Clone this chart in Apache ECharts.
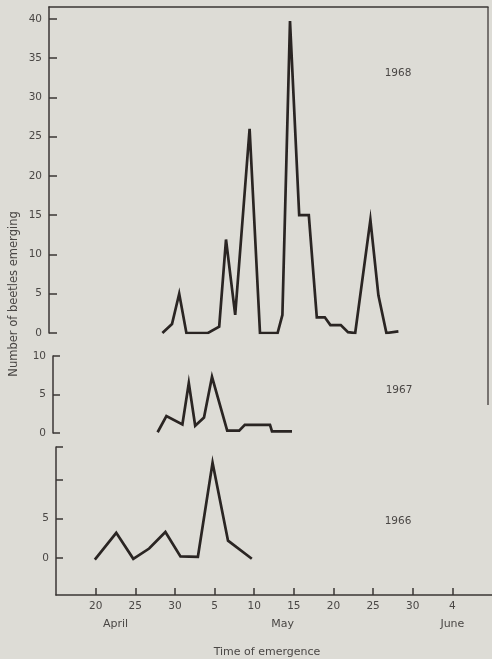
<!DOCTYPE html>
<html>
<head>
<meta charset="utf-8">
<script src="https://cdn.jsdelivr.net/npm/echarts@6/dist/echarts.min.js"></script>
<style>
  html, body { margin: 0; padding: 0; background: #dddcd6; }
  #chart { width: 492px; height: 659px; }
</style>
</head>
<body>
<div id="chart"></div>
<script>
// x values: day number counted from 1 April (May 1 = 31, June 1 = 62)
const x1968 = [28.3, 29.5, 30.4, 31.3, 34, 35.4, 36.25, 37.4, 39.2, 40.5, 42.7, 43.3, 44.25, 45.4, 46.6, 47.6, 48.6, 49.3, 50.6, 51.5, 52.4, 54.3, 55.3, 56.3, 57.8];
const y1968 = [0, 1.15, 5, 0, 0, 0.8, 11.9, 2.3, 26, 0, 0, 2.3, 39.7, 15, 15, 2, 2, 1, 1, 0.1, 0, 14.4, 4.8, 0, 0.2];

const x1967 = [27.7, 28.8, 30.8, 31.6, 32.4, 33.5, 34.5, 36.4, 37.9, 38.6, 41.75, 42, 44.5];
const y1967 = [0.1, 2.2, 1.1, 6.5, 0.95, 2.0, 7.3, 0.3, 0.3, 1.05, 1.05, 0.2, 0.2];

const x1966 = [19.9, 22.6, 24.75, 26.75, 28.8, 30.7, 32.9, 34.75, 36.7, 39.7];
const y1966 = [-0.2, 3.2, -0.1, 1.2, 3.3, 0.2, 0.15, 12.1, 2.2, -0.1];

const xTickValues = [20, 25, 30, 35, 40, 45, 50, 55, 60, 65];
const xTickLabels = ['20', '25', '30', '5', '10', '15', '20', '25', '30', '4'];
const monthValues = [22.5, 43.6, 65];
const monthLabels = ['April', 'May', 'June'];

const yTicks1968 = [0, 5, 10, 15, 20, 25, 30, 35, 40];
const yTicks1967 = [0, 5, 10];
const yTicks1966 = [0, 5, 10, 14.1];
const yLabels1966 = [0, 5];

const yearLabels = ['1968', '1967', '1966'];
const yTitle = 'Number of beetles emerging';
const xTitle = 'Time of emergence';

const INK = '#2a2523';
const AXIS = '#3a3634';
const TXT = '#4a4745';
const FONT = 'DejaVu Sans';

function pairs(xs, ys) { return xs.map((x, i) => [x, ys[i]]); }

const chart = echarts.init(document.getElementById('chart'), null, { renderer: 'canvas' });

const axLine = { show: true, onZero: false, lineStyle: { color: AXIS, width: 1.5 } };
const tickStyle = { color: AXIS, width: 1.5 };
const lblStyle = { color: TXT, fontSize: 10.5, fontFamily: FONT, margin: 7 };

chart.setOption({
  backgroundColor: '#dddcd6',
  animation: false,
  grid: [
    { left: 49, top: 7, width: 439, height: 326 },
    { left: 53, top: 356, width: 435, height: 77 },
    { left: 56, top: 447, width: 440, height: 148 }
  ],
  xAxis: [
    { gridIndex: 0, type: 'value', position: 'top', min: 14.125, max: 69,
      axisLine: axLine, axisTick: { show: false }, axisLabel: { show: false }, splitLine: { show: false } },
    { gridIndex: 1, type: 'value', min: 14.625, max: 69, show: false },
    { gridIndex: 2, type: 'value', position: 'bottom', min: 15, max: 70,
      axisLine: axLine,
      axisTick: { show: true, inside: true, length: 7, lineStyle: tickStyle, customValues: xTickValues },
      axisLabel: Object.assign({}, lblStyle, { margin: 6, customValues: xTickValues,
        formatter: v => xTickLabels[xTickValues.indexOf(v)] }),
      splitLine: { show: false } },
    { gridIndex: 2, type: 'value', position: 'bottom', min: 15, max: 70,
      axisLine: { show: false, onZero: false }, axisTick: { show: false },
      axisLabel: Object.assign({}, lblStyle, { fontSize: 11, margin: 24, customValues: monthValues,
        formatter: v => monthLabels[monthValues.indexOf(v)] }),
      splitLine: { show: false } }
  ],
  yAxis: [
    { gridIndex: 0, type: 'value', min: 0, max: 41.5,
      axisLine: axLine,
      axisTick: { show: true, inside: true, length: 8, lineStyle: tickStyle, customValues: yTicks1968 },
      axisLabel: Object.assign({}, lblStyle, { customValues: yTicks1968 }),
      splitLine: { show: false } },
    { gridIndex: 1, type: 'value', min: 0, max: 10,
      axisLine: axLine,
      axisTick: { show: true, inside: true, length: 7, lineStyle: tickStyle, customValues: yTicks1967 },
      axisLabel: Object.assign({}, lblStyle, { customValues: yTicks1967 }),
      splitLine: { show: false } },
    { gridIndex: 2, type: 'value', min: -4.7, max: 14.1,
      axisLine: axLine,
      axisTick: { show: true, inside: true, length: 7, lineStyle: tickStyle, customValues: yTicks1966 },
      axisLabel: Object.assign({}, lblStyle, { customValues: yLabels1966 }),
      splitLine: { show: false } }
  ],
  series: [
    { name: yearLabels[0], type: 'line', xAxisIndex: 0, yAxisIndex: 0, data: pairs(x1968, y1968),
      symbol: 'none', lineStyle: { color: INK, width: 2.7, join: 'miter' } },
    { name: yearLabels[1], type: 'line', xAxisIndex: 1, yAxisIndex: 1, data: pairs(x1967, y1967),
      symbol: 'none', lineStyle: { color: INK, width: 2.7, join: 'miter' } },
    { name: yearLabels[2], type: 'line', xAxisIndex: 2, yAxisIndex: 2, data: pairs(x1966, y1966),
      symbol: 'none', lineStyle: { color: INK, width: 2.7, join: 'miter' } }
  ],
  graphic: [
    { type: 'line', shape: { x1: 488, y1: 7, x2: 488, y2: 405 }, style: { stroke: '#55514e', lineWidth: 1.5 } },
    { type: 'text', x: 398, y: 73, style: { text: yearLabels[0], fill: TXT, font: '10.5px ' + FONT, align: 'center', verticalAlign: 'middle' } },
    { type: 'text', x: 399, y: 390, style: { text: yearLabels[1], fill: TXT, font: '10.5px ' + FONT, align: 'center', verticalAlign: 'middle' } },
    { type: 'text', x: 398, y: 521, style: { text: yearLabels[2], fill: TXT, font: '10.5px ' + FONT, align: 'center', verticalAlign: 'middle' } },
    { type: 'text', x: 14, y: 294, rotation: Math.PI / 2, style: { text: yTitle, fill: TXT, font: '11.5px ' + FONT, align: 'center', verticalAlign: 'middle' } },
    { type: 'text', x: 267, y: 652, style: { text: xTitle, fill: TXT, font: '11px ' + FONT, align: 'center', verticalAlign: 'middle' } }
  ]
});
</script>
</body>
</html>
